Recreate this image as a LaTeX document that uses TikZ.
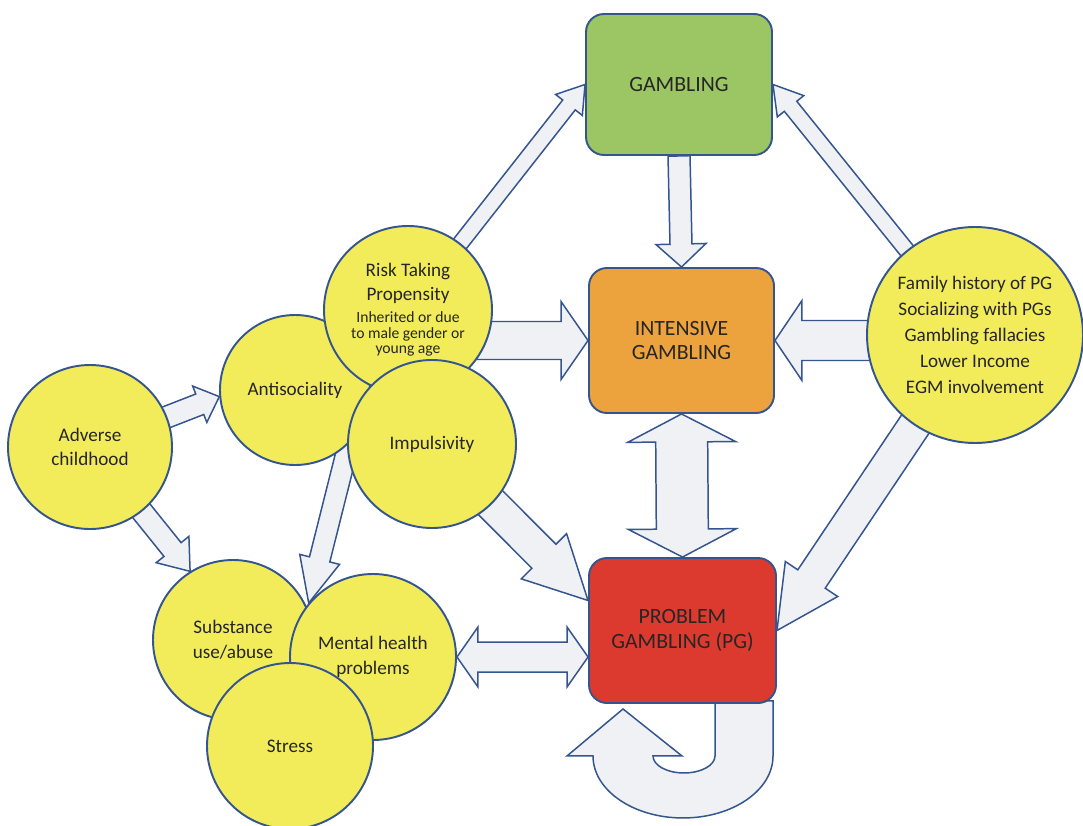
\documentclass[tikz,border=0pt]{standalone}
\usepackage{fontspec}
\setmainfont{Carlito}
\usepackage{tikz}
\usetikzlibrary{calc,backgrounds}
\usepackage{xcolor}

\definecolor{edgeblue}{HTML}{35558F}
\definecolor{circfill}{HTML}{F2EC5B}
\definecolor{gamgreen}{HTML}{9CC564}
\definecolor{intorange}{HTML}{EDA33D}
\definecolor{pgred}{HTML}{DC3A2F}
\definecolor{arrfill}{HTML}{EFF1F5}
\definecolor{ink}{HTML}{262626}

% block arrow: from, to, half shaft, half head, head length
\newcommand{\blockarrow}[5]{%
  \coordinate (hb) at ($(#2)!#5!(#1)$);
  \draw[blk] ($(#1)!#3!90:(#2)$) -- ($(hb)!#3!-90:(#1)$) -- ($(hb)!#4!-90:(#1)$)
    -- (#2) -- ($(hb)!#4!90:(#1)$) -- ($(hb)!#3!90:(#1)$) -- ($(#1)!#3!-90:(#2)$) -- cycle;
}
% same with a head at both ends
\newcommand{\dblarrow}[5]{%
  \coordinate (ha) at ($(#1)!#5!(#2)$);
  \coordinate (hb) at ($(#2)!#5!(#1)$);
  \draw[blk] (#1) -- ($(ha)!#4!90:(#2)$) -- ($(ha)!#3!90:(#2)$) -- ($(hb)!#3!-90:(#1)$)
    -- ($(hb)!#4!-90:(#1)$) -- (#2) -- ($(hb)!#4!90:(#1)$) -- ($(hb)!#3!90:(#1)$)
    -- ($(ha)!#3!-90:(#2)$) -- ($(ha)!#4!-90:(#2)$) -- cycle;
}

\begin{document}
\begin{tikzpicture}[
    font=\fontsize{10.9}{14}\selectfont,
    circ/.style={circle, draw=edgeblue, fill=circfill, line width=1.1pt, inner sep=0pt,
      align=center, text=ink},
    gbox/.style={draw=edgeblue, line width=1.1pt, rounded corners=0.36cm, align=center,
      text=ink, inner sep=0pt, font=\fontsize{12.4}{14.2}\selectfont},
    blk/.style={draw=edgeblue, fill=arrfill, line width=0.85pt, line join=miter}
  ]
    \useasboundingbox (0,0) rectangle (21.66,16.5);

    % factors on the left
    \node[circ, minimum size=3.28cm] (adv) at (1.80,7.56) {Adverse\\childhood};
    \node[circ, minimum size=3.0cm] (anti) at (5.90,8.70) {Antisociality};
    \node[circ, minimum size=3.36cm] (risk) at (8.16,10.30)
      {Risk Taking\\[-0.4pt]Propensity\\[-1.5pt]{\fontsize{8.9}{9}\selectfont Inherited or due}\\[-5.2pt]{\fontsize{8.9}{9}\selectfont to male gender or}\\[-5.2pt]{\fontsize{8.9}{9}\selectfont young age}};
    \node[circ, minimum size=3.36cm] (imp) at (8.64,7.62) {Impulsivity};
    \node[circ, minimum size=3.2cm] (subs) at (4.66,3.70) {Substance\\use/abuse};
    \node[circ, minimum size=3.32cm] (ment) at (7.46,3.36) {Mental health\\problems};
    \node[circ, minimum size=3.32cm] (stress) at (5.80,1.58) {Stress};

    % factors on the right
    \node[circ, minimum size=4.32cm] (fam) at (19.50,9.80)
      {Family history of PG\\[0.7pt]Socializing with PGs\\[0.7pt]Gambling fallacies\\[0.7pt]Lower Income\\[0.7pt]EGM involvement};

    % the three stages
    \node[gbox, fill=gamgreen, minimum width=3.72cm, minimum height=2.82cm] (gamb) at (13.58,14.81) {GAMBLING};
    \node[gbox, fill=intorange, minimum width=3.70cm, minimum height=2.90cm] (int) at (13.63,9.69) {INTENSIVE\\GAMBLING};
    \node[gbox, fill=pgred, minimum width=3.74cm, minimum height=2.90cm] (pg) at (13.65,3.89) {PROBLEM\\GAMBLING (PG)};

    \begin{pgfonlayer}{background}
      \blockarrow{risk.center}{gamb.west}{0.16cm}{0.34cm}{0.52cm}
      \blockarrow{gamb.south}{int.north}{0.22cm}{0.50cm}{0.46cm}
      \blockarrow{risk.center |- int.west}{int.west}{0.38cm}{0.78cm}{0.54cm}
      \blockarrow{fam.center |- int.east}{int.east}{0.40cm}{0.80cm}{0.54cm}
      \blockarrow{fam.center}{gamb.east}{0.16cm}{0.34cm}{0.56cm}
      \blockarrow{fam.center}{pg.east}{0.33cm}{0.63cm}{1.24cm}
      \dblarrow{int.south}{pg.north}{0.52cm}{1.08cm}{0.56cm}
      \coordinate (impend) at ($(pg.west)+(0,0.6)$);
      \blockarrow{imp.center}{impend}{0.34cm}{0.64cm}{1.25cm}
      \dblarrow{ment.east}{pg.west |- ment.east}{0.30cm}{0.60cm}{0.42cm}
      \blockarrow{adv.center}{anti.185}{0.22cm}{0.39cm}{0.42cm}
      \blockarrow{adv.center}{subs.122}{0.22cm}{0.42cm}{0.56cm}
      \blockarrow{anti.-45}{ment.140}{0.21cm}{0.41cm}{0.90cm}

      % U-turn under the problem gambling box
      \coordinate (loopc) at ($(pg.south)+(0.01,-1.04)$);
      \draw[blk] ($(loopc)+(1.80,1.10)$) -- ($(loopc)+(1.80,0)$)
        arc[start angle=0, end angle=-180, x radius=1.80, y radius=1.24]
        -- ($(loopc)+(-2.32,0)$) -- ($(loopc)+(-1.20,0.94)$) -- ($(loopc)+(-0.02,0)$)
        -- ($(loopc)+(-0.60,0)$)
        arc[start angle=180, end angle=360, x radius=0.62, y radius=0.34]
        -- ($(loopc)+(0.64,1.10)$) -- cycle;
    \end{pgfonlayer}

  \end{tikzpicture}
\end{document}
